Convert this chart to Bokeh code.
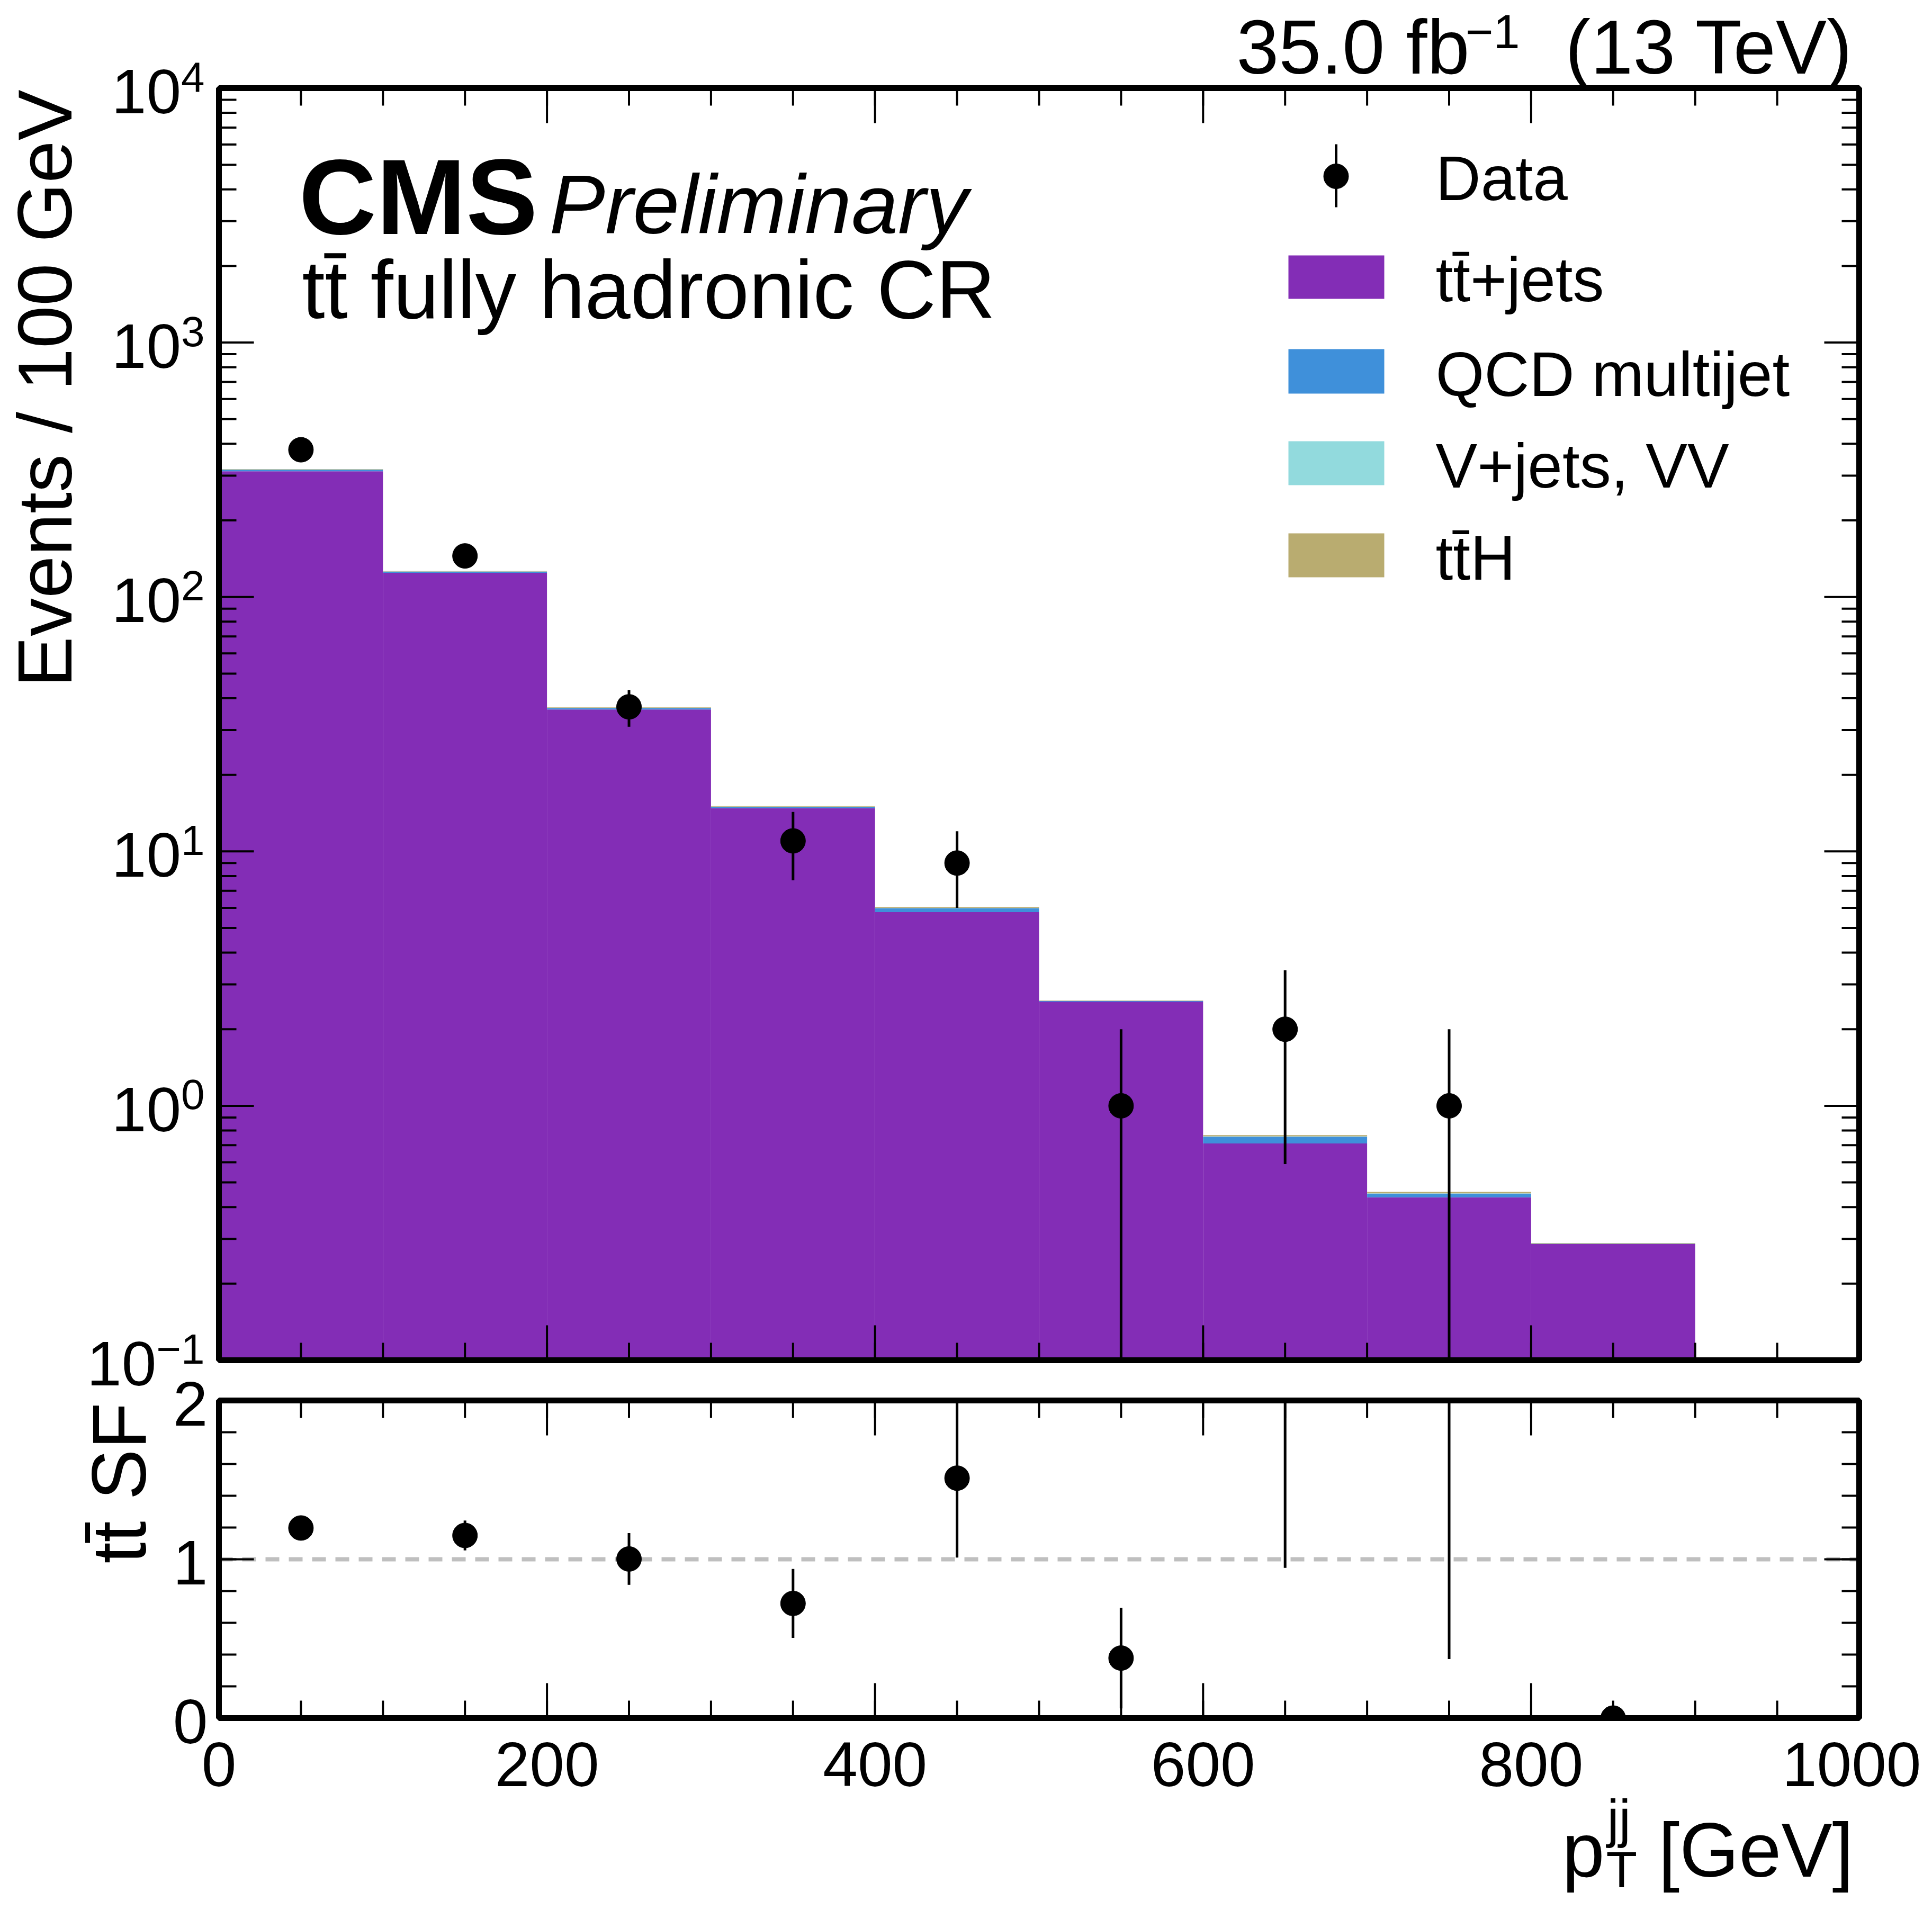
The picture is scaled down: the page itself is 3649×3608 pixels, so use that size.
import numpy as np
from bokeh.plotting import figure
from bokeh.models import Range1d, Label, LinearScale, LogScale
from bokeh.embed import file_html
from bokeh.resources import INLINE

# ---- values ----
edges = np.array([0, 100, 200, 300, 400, 500, 600, 700, 800, 900, 1000])

# stacked simulation, events / 100 GeV (drawn bottom to top)
tt_jets = [312.0, 124.5, 36.1, 14.78, 5.77, 2.57, 0.7115, 0.437, 0.2865, 0.0]
qcd = [4.3, 1.3, 0.5, 0.19, 0.21, 0.012, 0.045, 0.015, 0.0005, 0.0]
vjets = [0.4, 0.15, 0.05, 0.02, 0.01, 0.004, 0.002, 0.001, 0.0005, 0.0]
tth = [1.3, 0.5, 0.15, 0.07, 0.05, 0.01, 0.009, 0.006, 0.0015, 0.0]
stack_names = ["tt\u0304+jets", "QCD multijet", "V+jets, VV", "tt\u0304H"]
stack_colors = ["#832db6", "#3f90da", "#92dadd", "#b9ac70"]

data = [379, 145, 37, 11, 9, 1, 2, 1, 0, 0]
data_err = [19.5, 12.0, 6.1, 3.3, 3.0, 1.0, 1.41, 1.0, 0.0, 0.0]

# tt scale factor per bin (lower panel)
sf = [1.197, 1.150, 1.002, 0.722, 1.511, 0.378, 2.80, 2.26, 0.0]
sf_err = [0.062, 0.094, 0.163, 0.217, 0.50, 0.317, 1.854, 1.888, 0.0]

x_ticks = [0, 200, 400, 600, 800, 1000]
x_tick_labels = ["0", "200", "400", "600", "800", "1000"]
x_minor = list(range(0, 1001, 50))
y_ticks = [0.1, 1, 10, 100, 1000, 10000]
y_tick_expo = ["\u22121", "0", "1", "2", "3", "4"]
y_minor = [m * 10.0 ** k for k in range(-1, 4) for m in range(2, 10)]
sf_ticks = [0, 1, 2]
sf_tick_labels = ["0", "1", "2"]
sf_minor = [0.2 * i for i in range(11)]

# ---- layout, in page pixels (the whole canvas is one frame) ----
FONT = "Liberation Sans"
W, H = 3633, 3592
PX_L, PX_R = 421, 3519          # panel left / right
M_TOP, M_BOT = 174, 2577        # main panel
R_TOP, R_BOT = 2653, 3253       # ratio panel
MAJ, MIN = 66, 33               # tick lengths
TXT_SHIFT = 0.30                # baseline correction (em)

XS = (PX_R - PX_L) / (x_ticks[-1] - x_ticks[0])
lo_dec, hi_dec = np.log10(y_ticks[0]), np.log10(y_ticks[-1])
DEC = (M_BOT - M_TOP) / (hi_dec - lo_dec)
RS = (R_BOT - R_TOP) / (sf_ticks[-1] - sf_ticks[0])

p = figure(width=W, height=H,
           x_range=Range1d(x_ticks[0] - (PX_L - 8) / XS, x_ticks[-1] + (8 + W - PX_R) / XS),
           y_range=Range1d(10 ** (lo_dec - (8 + H - M_BOT) / DEC),
                           10 ** (hi_dec + (M_TOP - 8) / DEC)),
           y_axis_type="log", x_axis_location=None, y_axis_location=None,
           output_backend="svg", toolbar_location=None, title=None,
           min_border=0, outline_line_color=None)
p.y_scale = LogScale()
p.grid.visible = False
p.extra_x_ranges = {"px": Range1d(8, 8 + W)}
p.extra_y_ranges = {"px": Range1d(8 + H, 8),
                    "ratio": Range1d(sf_ticks[0] - (8 + H - R_BOT) / RS,
                                     sf_ticks[-1] + (R_TOP - 8) / RS)}
p.extra_x_scales = {"px": LinearScale()}
p.extra_y_scales = {"px": LinearScale(), "ratio": LinearScale()}


def text(x, y, s, size, align="left", style="normal", rotated=False):
    shift = TXT_SHIFT * size
    if rotated:
        x, angle = x - shift, np.pi / 2
    else:
        y, angle = y - shift, 0.0
    p.add_layout(Label(x=x, y=y, x_range_name="px", y_range_name="px", text=s,
                       text_font=FONT, text_font_size=f"{size}px", text_font_style=style,
                       text_align=align, text_baseline="alphabetic", angle=angle,
                       text_color="black"))


lefts, rights = edges[:-1], edges[1:]
centers = (lefts + rights) / 2

# ---- main panel: stacked histogram + data ----
stack = np.array([tt_jets, qcd, vjets, tth])
tops = np.cumsum(stack, axis=0)
bottoms = np.vstack([np.full(len(lefts), y_ticks[0]), tops[:-1]])
for vals, top, bot, col in zip(stack, tops, bottoms, stack_colors):
    m = vals > 0
    p.quad(left=lefts[m], right=rights[m], top=top[m], bottom=bot[m],
           fill_color=col, line_color=None)

d = np.array(data, dtype=float)
de = np.array(data_err)
m = d > 0
p.segment(centers[m], np.maximum(d[m] - de[m], y_ticks[0]), centers[m], d[m] + de[m],
          line_color="black", line_width=5)
p.scatter(centers[m], d[m], size=47, color="black")

# ---- ratio panel ----
p.segment([x_ticks[0]], [1], [x_ticks[-1]], [1], y_range_name="ratio",
          line_color="#bfbfbf", line_width=8, line_dash="26 18")
s = np.array(sf)
se = np.array(sf_err)
rc = centers[:len(s)]
lo_s, hi_s = sf_ticks[0], sf_ticks[-1]
p.segment(rc, np.clip(s - se, lo_s, hi_s), rc, np.clip(s + se, lo_s, hi_s),
          y_range_name="ratio", line_color="black", line_width=5)
inside = s <= hi_s
p.scatter(rc[inside], s[inside], size=47, color="black", y_range_name="ratio")

# white below the ratio panel (hides the part of markers outside it)
p.quad(left=[8], right=[8 + W], top=[R_BOT], bottom=[8 + H], fill_color="white",
       line_color=None, x_range_name="px", y_range_name="px")

# ---- panel frames and ticks ----
p.quad(left=[PX_L, PX_L], right=[PX_R, PX_R], top=[M_TOP, R_TOP], bottom=[M_BOT, R_BOT],
       fill_color=None, line_color="black", line_width=11,
       x_range_name="px", y_range_name="px")

for top_px, bot_px in [(M_TOP, M_BOT), (R_TOP, R_BOT)]:
    for ticks, ln in [(x_minor, MIN), (x_ticks, MAJ)]:
        n = len(ticks)
        p.segment(ticks, [bot_px] * n, ticks, [bot_px - ln] * n, y_range_name="px",
                  line_color="black", line_width=4)
        p.segment(ticks, [top_px] * n, ticks, [top_px + ln] * n, y_range_name="px",
                  line_color="black", line_width=4)

for rname, maj, mnr in [("default", y_ticks, y_minor), ("ratio", sf_ticks, sf_minor)]:
    for ticks, ln in [(mnr, MIN), (maj, MAJ)]:
        n = len(ticks)
        p.segment([PX_L] * n, ticks, [PX_L + ln] * n, ticks, x_range_name="px",
                  y_range_name=rname, line_color="black", line_width=4)
        p.segment([PX_R] * n, ticks, [PX_R - ln] * n, ticks, x_range_name="px",
                  y_range_name=rname, line_color="black", line_width=4)

# ---- legend ----
leg_rows = [(490, 572), (667, 751), (841, 924), (1015, 1098)]
p.quad(left=[2441] * 4, right=[2622] * 4, top=[a for a, b in leg_rows],
       bottom=[b for a, b in leg_rows], fill_color=stack_colors, line_color=None,
       x_range_name="px", y_range_name="px")
p.segment([2531], [399], [2531], [280], line_color="black", line_width=5,
          x_range_name="px", y_range_name="px")
p.scatter([2531], [340.5], size=47, color="black", x_range_name="px", y_range_name="px")
text(2719, 380, "Data", 118)
for (a, b), name in zip(leg_rows, stack_names):
    text(2719, b - 1, name, 118)

# ---- texts ----
text(572, 440, "CMS", 203, style="bold")
text(1045, 440, "Preliminary", 158, style="italic")
text(578, 601, "tt\u0304 fully hadronic CR", 155)

text(2783, 140, "35.0 fb", 144, align="right")
text(2878, 94, "\u22121", 90, align="right")
text(3508, 140, "(13 TeV)", 144, align="right")

text(136, 177, "Events / 100 GeV", 144, align="right", rotated=True)
text(276, 2657, "tt\u0304 SF", 144, align="right", rotated=True)

text(3508, 3546, "[GeV]", 144, align="right")
text(3038, 3546, "p", 144, align="right")
text(3041, 3568, "T", 96)
text(3043, 3472, "jj", 100)

# tick labels
for t, lab in zip(x_ticks, x_tick_labels):
    last = t == x_ticks[-1]
    p.add_layout(Label(x=3636 if last else t, x_range_name="px" if last else "default",
                       y=3376 - TXT_SHIFT * 118, y_range_name="px", text=lab,
                       text_font=FONT, text_font_size="118px",
                       text_align="right" if last else "center",
                       text_baseline="alphabetic", text_color="black"))

cw = {"\u2212": 0.584}
for v, e in zip(y_ticks, y_tick_expo):
    ew = 80 * sum(cw.get(c, 0.556) for c in e)
    p.add_layout(Label(x=394, y=v, x_range_name="px", text=e, text_font=FONT,
                       text_font_size="80px", text_align="right", text_color="black",
                       text_baseline="alphabetic", y_offset=TXT_SHIFT * 80 - 3))
    p.add_layout(Label(x=394 - ew, y=v, x_range_name="px", text="10", text_font=FONT,
                       text_font_size="118px", text_align="right", text_color="black",
                       text_baseline="alphabetic", y_offset=TXT_SHIFT * 118 - 42))

for v, lab in zip(sf_ticks, sf_tick_labels):
    p.add_layout(Label(x=400, y=v, x_range_name="px", y_range_name="ratio", text=lab,
                       text_font=FONT, text_font_size="118px", text_align="right",
                       text_color="black", text_baseline="alphabetic",
                       y_offset=TXT_SHIFT * 118 - 42))

open("out.html", "w").write(file_html(p, INLINE))
